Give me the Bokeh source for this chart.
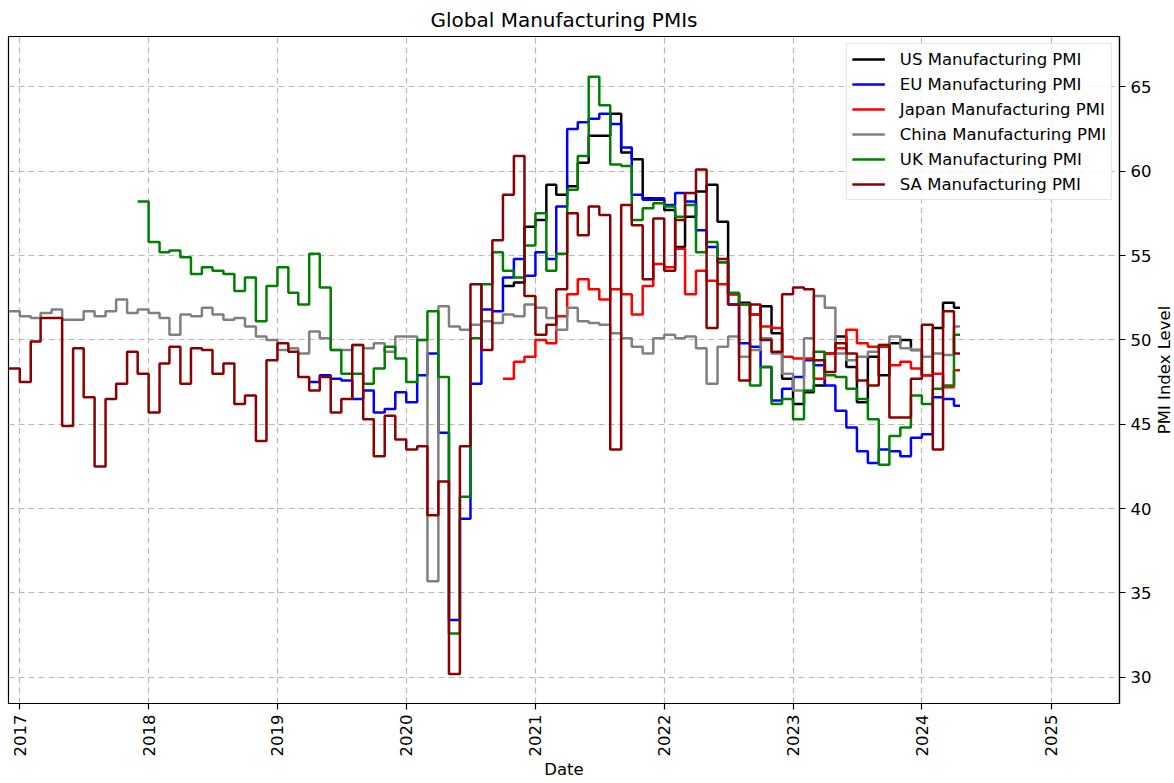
import math
import pandas as pd
from bokeh.plotting import figure
from bokeh.layouts import row
from bokeh.models import Range1d, FixedTicker, DatetimeTickFormatter, Legend, LegendItem
from bokeh.core.properties import value
from bokeh.embed import file_html
from bokeh.resources import INLINE

# Monthly PMI readings, each held from the first day of its month until the next one.
LAST_DAY = "2024-04-18"

us_start = "2020-10"
us_pmi = [53.2, 53.4, 56.7,
          57.1, 59.2, 58.6, 59.1, 60.5, 62.1, 62.1, 63.4, 61.1, 60.7, 58.4, 58.3,
          57.7, 55.5, 57.3, 58.8, 59.2, 57.0, 52.7, 52.2, 51.5, 52.0, 50.4, 47.7,
          46.2, 46.9, 47.3, 49.2, 50.2, 48.4, 46.3, 49.0, 47.9, 49.8, 50.0, 49.4,
          47.9, 50.7, 52.2, 51.9]

eu_start = "2019-04"
eu_pmi = [47.5, 47.9, 47.7, 47.6, 46.5, 47.0, 45.7, 45.9, 46.9,
          46.3, 47.9, 49.2, 44.5, 33.4, 39.4, 47.4, 51.8, 51.7, 53.7, 54.8, 53.8,
          55.2, 54.8, 57.9, 62.5, 62.9, 63.1, 63.4, 62.8, 61.4, 58.6, 58.3, 58.4,
          58.0, 58.7, 58.2, 56.5, 55.5, 54.6, 52.1, 49.8, 49.6, 48.4, 46.4, 47.1,
          47.8, 48.8, 48.5, 47.3, 45.8, 44.8, 43.4, 42.7, 43.5, 43.4, 43.1, 44.2,
          44.4, 46.6, 46.5, 46.1]

japan_start = "2020-10"
japan_pmi = [47.7, 48.7, 49.0,
             50.0, 49.8, 51.4, 52.7, 53.6, 53.0, 52.4, 53.0, 52.7, 51.5, 53.2, 54.5,
             54.3, 55.4, 52.7, 54.1, 53.5, 53.3, 52.7, 52.1, 51.5, 50.8, 50.7, 49.0,
             48.9, 48.9, 47.7, 49.2, 49.5, 50.6, 49.8, 49.6, 49.6, 48.5, 48.7, 48.3,
             47.9, 48.0, 47.2, 48.2]

china_start = "2016-12"
china_pmi = [51.7,
             51.4, 51.3, 51.6, 51.8, 51.2, 51.2, 51.7, 51.4, 51.7, 52.4, 51.6, 51.8,
             51.6, 51.3, 50.3, 51.5, 51.4, 51.9, 51.5, 51.2, 51.3, 50.8, 50.2, 50.0,
             49.4, 49.5, 49.2, 50.5, 50.1, 49.4, 49.4, 49.7, 49.5, 49.8, 49.3, 50.2,
             50.2, 50.0, 35.7, 52.0, 50.8, 50.6, 50.9, 51.1, 51.0, 51.5, 51.4, 52.1,
             51.9, 51.3, 50.6, 51.9, 51.1, 51.0, 50.9, 50.4, 50.1, 49.6, 49.2, 50.1,
             50.3, 50.1, 50.2, 49.5, 47.4, 49.6, 50.2, 49.0, 49.4, 50.1, 49.2, 48.0,
             47.0, 50.1, 52.6, 51.9, 49.2, 48.8, 49.0, 49.3, 49.7, 50.2, 49.5, 49.4,
             49.0, 49.2, 49.1, 50.8]

uk_start = "2017-12"
uk_pmi = [58.2,
          55.8, 55.2, 55.3, 54.9, 53.9, 54.3, 54.1, 53.9, 52.9, 53.7, 51.1, 53.2,
          54.3, 52.8, 52.1, 55.1, 53.1, 49.4, 48.0, 48.0, 47.4, 48.3, 49.6, 48.9,
          47.5, 50.0, 51.7, 47.8, 32.6, 40.7, 50.1, 53.3, 55.2, 54.1, 53.7, 55.6,
          57.5, 54.1, 55.1, 58.9, 60.9, 65.6, 63.9, 60.4, 60.3, 57.1, 57.8, 58.1,
          57.9, 57.3, 58.0, 55.2, 55.8, 54.6, 52.8, 52.1, 47.3, 48.4, 46.2, 46.5,
          45.3, 47.0, 49.3, 47.9, 47.8, 47.1, 46.5, 45.3, 42.6, 44.3, 44.8, 46.7,
          46.2, 47.1, 47.3, 50.3]

sa_start = "2016-12"
sa_pmi = [48.3,
          47.5, 49.9, 51.3, 51.3, 44.9, 49.5, 46.6, 42.5, 46.5, 47.4, 49.3, 48.0,
          45.7, 48.6, 49.6, 47.4, 49.5, 49.4, 48.0, 48.6, 46.2, 46.7, 44.0, 48.8,
          49.8, 49.3, 47.8, 47.0, 47.8, 45.7, 46.5, 49.7, 45.3, 43.1, 45.5, 44.1,
          43.5, 43.7, 39.6, 41.6, 30.2, 43.7, 53.3, 49.4, 55.9, 58.6, 60.9, 52.6,
          50.3, 50.9, 53.0, 57.5, 56.2, 57.9, 57.4, 43.5, 58.0, 56.8, 53.6, 57.2,
          54.1, 57.1, 58.7, 60.1, 50.7, 54.8, 52.1, 47.6, 52.1, 50.0, 49.3, 52.7,
          53.1, 53.0, 48.8, 48.1, 49.8, 49.2, 47.6, 47.3, 49.7, 45.4, 45.4, 47.7,
          50.9, 43.5, 51.7, 49.2]

series = [
    ("US Manufacturing PMI", us_start, us_pmi, "black"),
    ("EU Manufacturing PMI", eu_start, eu_pmi, "blue"),
    ("Japan Manufacturing PMI", japan_start, japan_pmi, "red"),
    ("China Manufacturing PMI", china_start, china_pmi, "gray"),
    ("UK Manufacturing PMI", uk_start, uk_pmi, "green"),
    ("SA Manufacturing PMI", sa_start, sa_pmi, "darkred"),
]

year_ticks = list(range(2017, 2026))
pmi_ticks = [30, 35, 40, 45, 50, 55, 60, 65]
y_title = "PMI Index Level"


def stepped(start, values):
    dates = pd.date_range(start=start + "-01", periods=len(values), freq="MS")
    xs = list(dates) + [pd.Timestamp(LAST_DAY)]
    ys = list(values) + [values[-1]]
    return xs, ys


FONT = "DejaVu Sans"
H = 783
MAIN_W = 1154      # chart with its right-hand tick labels
SIDE_W = 20        # narrow strip carrying the y-axis title
Y_LO, Y_HI = 28.45, 67.98

p = figure(
    width=MAIN_W, height=H,
    x_axis_type="datetime", y_axis_location="right",
    x_range=Range1d(pd.Timestamp("2016-11-30"), pd.Timestamp("2025-07-14")),
    y_range=Range1d(Y_LO, Y_HI),
    output_backend="svg", toolbar_location=None,
    min_border_left=8, min_border_right=32, min_border_top=35, min_border_bottom=80,
)
p.background_fill_color = "white"
p.border_fill_color = "white"
p.outline_line_color = "black"
p.outline_line_width = 1.2

p.title.text = "Global Manufacturing PMIs"
p.title.align = "center"
p.title.text_font = FONT
p.title.text_font_size = "20px"
p.title.text_font_style = "normal"
p.title.text_color = "black"

for g in (p.xgrid, p.ygrid):
    g.grid_line_color = "#b8b8b8"
    g.grid_line_dash = "6 4"
    g.grid_line_width = 1.2

xa = p.xaxis[0]
xa.ticker = FixedTicker(ticks=[pd.Timestamp(f"{y}-01-01").value // 10**6 for y in year_ticks])
xa.formatter = DatetimeTickFormatter(years="%Y", months="%Y", days="%Y", hours="%Y")
xa.major_label_orientation = math.pi / 2
xa.axis_label = "Date"
xa.axis_label_standoff = 1

ya = p.yaxis[0]
ya.ticker = FixedTicker(ticks=pmi_ticks)

for ax in (xa, ya):
    ax.axis_line_color = "black"
    ax.axis_line_width = 1.2
    ax.major_tick_out = 6
    ax.major_tick_in = 0
    ax.major_tick_line_color = "black"
    ax.major_tick_line_width = 1.2
    ax.minor_tick_out = 0
    ax.minor_tick_in = 0
    ax.major_label_text_font = FONT
    ax.major_label_text_font_size = "16.5px"
    ax.major_label_text_color = "black"
    ax.major_label_standoff = 5
    ax.axis_label_text_font = FONT
    ax.axis_label_text_font_size = "16.5px"
    ax.axis_label_text_font_style = "normal"
    ax.axis_label_text_color = "black"

items = []
for name, start, vals, color in series:
    xs, ys = stepped(start, vals)
    r = p.step(xs, ys, mode="after", line_color=color, line_width=2.5)
    items.append(LegendItem(label=name, renderers=[r]))

legend = Legend(
    items=items, location="top_right", margin=7, padding=5,
    spacing=5, label_height=20, glyph_height=20, glyph_width=33,
    label_standoff=15,
    label_text_font=FONT, label_text_font_size="16.5px", label_text_color="black",
    border_line_color="#cccccc", border_line_width=1,
    background_fill_color="white", background_fill_alpha=0.8,
)
p.add_layout(legend)

# side strip: y-axis title written upwards, centred on the plot frame
side = figure(
    width=SIDE_W, height=H,
    x_range=Range1d(0, 1), y_range=Range1d(Y_LO, Y_HI),
    x_axis_location=None, y_axis_location=None,
    output_backend="svg", toolbar_location=None,
    min_border=0,
)
side.xgrid.visible = False
side.ygrid.visible = False
side.outline_line_color = None
side.background_fill_color = "white"
side.border_fill_color = "white"
side.text(x=[0.52], y=[(Y_LO + Y_HI) / 2], text=[y_title], angle=math.pi / 2,
          text_align="center", text_baseline="middle",
          text_font=value(FONT), text_font_size=value("16.5px"), text_color="black")

layout = row(p, side, spacing=0)

open("out.html", "w").write(file_html(layout, INLINE))
